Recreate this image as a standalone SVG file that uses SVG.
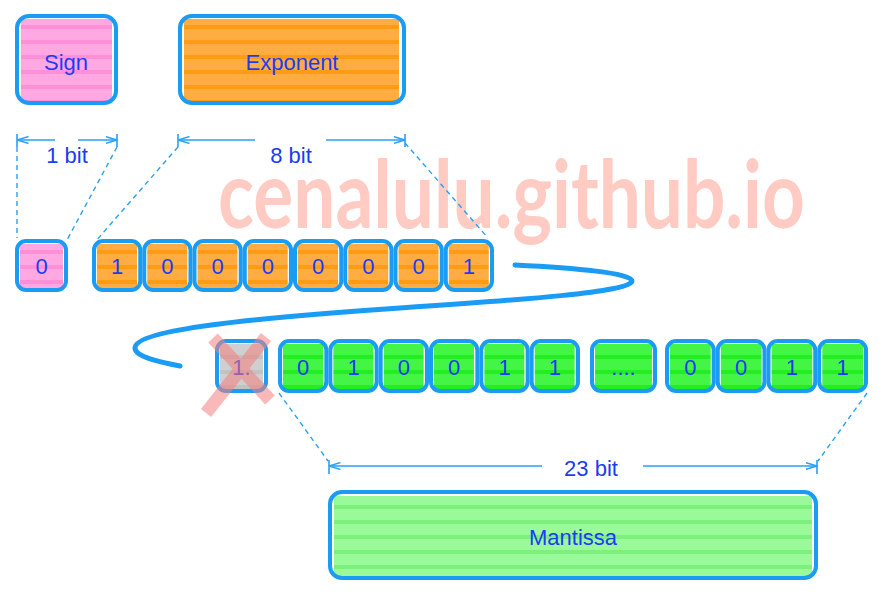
<svg xmlns="http://www.w3.org/2000/svg" width="883" height="595" viewBox="0 0 883 595">
<defs>
<pattern id="pPink" patternUnits="userSpaceOnUse" width="20" height="15"><rect width="20" height="15" fill="#ffa8e2"/><rect y="10" width="20" height="4" fill="#ff90d8"/></pattern>
<pattern id="pOrange" patternUnits="userSpaceOnUse" width="20" height="15"><rect width="20" height="15" fill="#ffac42"/><rect y="10" width="20" height="4" fill="#ff9c14"/></pattern>
<pattern id="pGreen" patternUnits="userSpaceOnUse" width="20" height="15"><rect width="20" height="15" fill="#45f545"/><rect y="10" width="20" height="4" fill="#22ee22"/></pattern>
<pattern id="pLight" patternUnits="userSpaceOnUse" width="20" height="15"><rect width="20" height="15" fill="#9afa9a"/><rect y="10" width="20" height="4" fill="#7cf07c"/></pattern>
<pattern id="pGray" patternUnits="userSpaceOnUse" width="20" height="15"><rect width="20" height="15" fill="#cfcfcf"/><rect y="10" width="20" height="4" fill="#c2c2c2"/></pattern>
<marker id="arr" viewBox="0 0 12 8" refX="11.5" refY="4" markerWidth="12" markerHeight="8" markerUnits="userSpaceOnUse" orient="auto"><path d="M0,0.5 L11.5,4 L0,7.5" fill="none" stroke="#2aa0f2" stroke-width="1.4"/></marker>
</defs>
<style>
.box{stroke:#1a9cf5;stroke-width:4}
.lbl{font-family:"Liberation Sans",Arial,sans-serif;font-size:22px;fill:#1a3cf5;text-anchor:middle}
.dig{font-family:"Liberation Sans",Arial,sans-serif;font-size:22px;fill:#1a3cf5;text-anchor:middle}
.dash{stroke:#2aa0f2;stroke-width:1.4;stroke-dasharray:5 4;fill:none}
.dim{stroke:#2aa0f2;stroke-width:1.6;fill:none}
.pink{fill:url(#pPink)}
.orange{fill:url(#pOrange)}
.green{fill:url(#pGreen)}
</style>
<rect width="883" height="595" fill="#ffffff"/>
<text x="218" y="228" textLength="587" lengthAdjust="spacingAndGlyphs" font-family="Lato,'Open Sans',sans-serif" font-weight="bold" font-size="94" fill="#ffcbc2">cenalulu.github.io</text>

<g id="sign">
<rect x="21" y="19" width="91" height="83" class="pink"/>
<rect x="17" y="16" width="99" height="87" rx="12" class="box" fill="none"/>
<text x="66" y="70" class="lbl">Sign</text>
</g>
<g id="exponent">
<rect x="184" y="19" width="215" height="83" class="orange"/>
<rect x="180" y="16" width="224" height="87" rx="12" class="box" fill="none"/>
<text x="292" y="70" class="lbl">Exponent</text>
</g>
<g id="mantissa">
<rect x="334" y="496" width="478" height="80" fill="url(#pLight)"/>
<rect x="330" y="492" width="486" height="86" rx="12" class="box" fill="none"/>
<text x="573" y="545" class="lbl">Mantissa</text>
</g>

<g id="connectors">
<path d="M17,147 L17,238" class="dash"/>
<path d="M117,147 L67,240" class="dash"/>
<path d="M178,147 L95,242" class="dash"/>
<path d="M405,143 L488,238" class="dash"/>
<path d="M279,393 L328,461" class="dash"/>
<path d="M867,393 L818,461" class="dash"/>
<path d="M17,134 L17,147 M117,134 L117,147 M178,134 L178,147 M405,134 L405,147 M329,460 L329,474 M817,460 L817,474" class="dim"/>
<path d="M55,140 L17,140" class="dim" marker-end="url(#arr)"/>
<path d="M78,140 L117,140" class="dim" marker-end="url(#arr)"/>
<path d="M255,140 L178,140" class="dim" marker-end="url(#arr)"/>
<path d="M326,140 L405,140" class="dim" marker-end="url(#arr)"/>
<path d="M542,466 L329,466" class="dim" marker-end="url(#arr)"/>
<path d="M643,466 L817,466" class="dim" marker-end="url(#arr)"/>
<path d="M515,265 C575,268 632,273 632,281 C632,292 520,300 400,308 C250,318 135,330 135,348 C135,357 160,362 180,366" fill="none" stroke="#1a9cf5" stroke-width="5" stroke-linecap="round"/>
</g>
<text x="67" y="163" class="lbl">1 bit</text>
<text x="291" y="163" class="lbl">8 bit</text>
<text x="591" y="476" class="lbl">23 bit</text>

<g id="bit-sign">
<rect x="20" y="244" width="43" height="44" class="pink"/>
<rect x="17" y="241" width="49" height="49" rx="9" class="box" fill="none"/>
<text x="41.5" y="274" class="dig">0</text>
</g>
<g id="exp-0"><rect x="97" y="244" width="40" height="44" class="orange"/><rect x="94" y="241" width="46.25" height="49" rx="9" class="box" fill="none"/><text x="117.1" y="274" class="dig">1</text></g>
<g id="exp-1"><rect x="147.25" y="244" width="40" height="44" class="orange"/><rect x="144.25" y="241" width="46.25" height="49" rx="9" class="box" fill="none"/><text x="167.4" y="274" class="dig">0</text></g>
<g id="exp-2"><rect x="197.5" y="244" width="40" height="44" class="orange"/><rect x="194.5" y="241" width="46.25" height="49" rx="9" class="box" fill="none"/><text x="217.6" y="274" class="dig">0</text></g>
<g id="exp-3"><rect x="247.75" y="244" width="40" height="44" class="orange"/><rect x="244.75" y="241" width="46.25" height="49" rx="9" class="box" fill="none"/><text x="267.9" y="274" class="dig">0</text></g>
<g id="exp-4"><rect x="298" y="244" width="40" height="44" class="orange"/><rect x="295" y="241" width="46.25" height="49" rx="9" class="box" fill="none"/><text x="318.1" y="274" class="dig">0</text></g>
<g id="exp-5"><rect x="348.25" y="244" width="40" height="44" class="orange"/><rect x="345.25" y="241" width="46.25" height="49" rx="9" class="box" fill="none"/><text x="368.4" y="274" class="dig">0</text></g>
<g id="exp-6"><rect x="398.5" y="244" width="40" height="44" class="orange"/><rect x="395.5" y="241" width="46.25" height="49" rx="9" class="box" fill="none"/><text x="418.6" y="274" class="dig">0</text></g>
<g id="exp-7"><rect x="448.75" y="244" width="40" height="44" class="orange"/><rect x="445.75" y="241" width="46.25" height="49" rx="9" class="box" fill="none"/><text x="468.9" y="274" class="dig">1</text></g>

<g id="hidden-one">
<rect x="220" y="344" width="43" height="45" fill="url(#pGray)"/>
<rect x="217" y="341" width="49" height="50" rx="9" class="box" fill="none"/>
<text x="241.5" y="375" class="dig">1.</text>
</g>
<g id="man-0"><rect x="283" y="344" width="40" height="45" class="green"/><rect x="280" y="341" width="46.33" height="50" rx="9" class="box" fill="none"/><text x="303.2" y="375" class="dig">0</text></g>
<g id="man-1"><rect x="333.33" y="344" width="40" height="45" class="green"/><rect x="330.33" y="341" width="46.33" height="50" rx="9" class="box" fill="none"/><text x="353.5" y="375" class="dig">1</text></g>
<g id="man-2"><rect x="383.66" y="344" width="40" height="45" class="green"/><rect x="380.66" y="341" width="46.33" height="50" rx="9" class="box" fill="none"/><text x="403.8" y="375" class="dig">0</text></g>
<g id="man-3"><rect x="434" y="344" width="40" height="45" class="green"/><rect x="431" y="341" width="46.33" height="50" rx="9" class="box" fill="none"/><text x="454.2" y="375" class="dig">0</text></g>
<g id="man-4"><rect x="484.33" y="344" width="40" height="45" class="green"/><rect x="481.33" y="341" width="46.33" height="50" rx="9" class="box" fill="none"/><text x="504.5" y="375" class="dig">1</text></g>
<g id="man-5"><rect x="534.66" y="344" width="40" height="45" class="green"/><rect x="531.66" y="341" width="46.33" height="50" rx="9" class="box" fill="none"/><text x="554.8" y="375" class="dig">1</text></g>
<g id="man-dots"><rect x="595" y="344" width="57" height="45" class="green"/><rect x="592" y="341" width="63" height="50" rx="9" class="box" fill="none"/><text x="623.5" y="375" class="dig">....</text></g>
<g id="man-19"><rect x="670" y="344" width="40.75" height="45" class="green"/><rect x="667" y="341" width="46.75" height="50" rx="9" class="box" fill="none"/><text x="690.4" y="375" class="dig">0</text></g>
<g id="man-20"><rect x="720.75" y="344" width="40.75" height="45" class="green"/><rect x="717.75" y="341" width="46.75" height="50" rx="9" class="box" fill="none"/><text x="741.1" y="375" class="dig">0</text></g>
<g id="man-21"><rect x="771.5" y="344" width="40.75" height="45" class="green"/><rect x="768.5" y="341" width="46.75" height="50" rx="9" class="box" fill="none"/><text x="791.9" y="375" class="dig">1</text></g>
<g id="man-22"><rect x="822.25" y="344" width="40.75" height="45" class="green"/><rect x="819.25" y="341" width="46.75" height="50" rx="9" class="box" fill="none"/><text x="842.6" y="375" class="dig">1</text></g>

<g id="cross" stroke="#f58080" stroke-width="13" opacity="0.55">
<path d="M213,338 L270,400"/>
<path d="M266,337 L206,413"/>
</g>
</svg>
